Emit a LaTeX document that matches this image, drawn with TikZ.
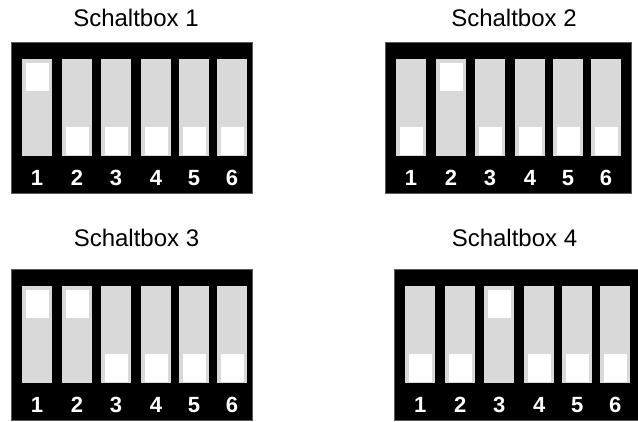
\documentclass[tikz,border=0pt]{standalone}
\usepackage{fontspec}
\setmainfont{Liberation Sans}
\definecolor{slotgray}{HTML}{D9D9D9}
\definecolor{edgegray}{HTML}{5A5A5A}
\newcommand\switchbox[8]{%
  % #1 number, #2 left, #3 top, #4 width, #5 title x, #6 title baseline, #7 #8 up switches
  \node[boxframe, anchor=north west, minimum width=#4pt, minimum height=151pt] (box#1) at (#2,#3) {};
  \node[boxtitle] (title#1) at (#5,#6) {Schaltbox #1};
  \foreach \i/\off in {1/11,2/51,3/90,4/130,5/168,6/206}{%
    \ifnum\i=#7\relax\def\ky{20.5}\else\ifnum\i=#8\relax\def\ky{20.5}\else\def\ky{84.5}\fi\fi
    \fill[slotbar] (#2+\off,#3+16.5) rectangle ++(30,97.5);
    \fill[knob] (#2+\off+3.5,#3+\ky) rectangle ++(23,28);
    \node[digit] (d#1-\i) at (#2+\off+15,#3+143) {\i};
  }%
}
\begin{document}
\begin{tikzpicture}[x=1pt,y=-1pt,
  boxframe/.style={fill=black,draw=edgegray,line width=0.8pt,inner sep=0pt,outer sep=0pt},
  slotbar/.style={fill=slotgray},
  knob/.style={fill=white},
  boxtitle/.style={font=\fontsize{24}{28}\selectfont,anchor=base,inner sep=0pt},
  digit/.style={font=\fontsize{22}{26}\selectfont\bfseries,text=white,anchor=base,inner sep=0pt}]
\useasboundingbox (0,0) rectangle (638,421);
\switchbox{1}{11}{42.3}{241}{136}{26.7}{1}{0}
\switchbox{2}{385}{42.3}{246}{514}{26.7}{2}{0}
\switchbox{3}{11}{269.3}{241}{136.5}{246.7}{1}{2}
\switchbox{4}{394.3}{269.3}{246}{514.5}{246.7}{3}{0}
\end{tikzpicture}
\end{document}
